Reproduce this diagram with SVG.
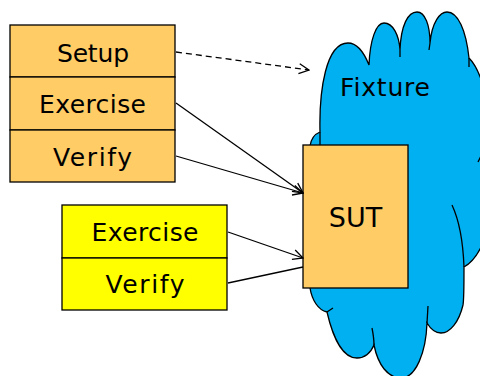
<svg xmlns="http://www.w3.org/2000/svg" width="480" height="376" viewBox="0 0 480 376">
<style>
.box{stroke:#000;stroke-width:1.3}
.orange{fill:#FFCC66}
.yellow{fill:#FFFF00}
.lbl{font-family:"DejaVu Sans","Verdana",sans-serif;font-size:25px;fill:#000;text-anchor:middle}
.conn{stroke:#000;stroke-width:1.3;fill:none}
.dash{stroke-dasharray:6,4}
</style>
<defs>
<marker id="arr" viewBox="0 0 12 12" refX="11" refY="6" markerWidth="12" markerHeight="12" markerUnits="userSpaceOnUse" orient="auto">
<path d="M1,1 L11,6 L1,11" fill="none" stroke="#000" stroke-width="1.3"/>
</marker>
</defs>
<g id="fixture">
<path d="M310,146 C311,139 315,134 320,132 C319,90 326,43 348,43 C358,43 365,55 369,65 C370,40 376,23 384,23 C393,23 399,35 400,50 C401,25 408,12 417,12 C425,12 430,25 430,43 C432,22 440,12 447,12 C458,12 466,30 469,58 C473,62 478,70 482,82 L490,90 L490,240 L482,245 C477,256 471,263 464,267 C464,285 464,300 463,305 C459,322 450,333 441,333 C434,333 430,328 427,323 C426,352 416,378 401,378 C388,378 378,365 374,345 C371,352 366,358 357,358 C343,358 333,338 327,312 C318,310 312,300 310,288 Z" fill="#00B0F0" stroke="#000" stroke-width="1.3"/>
<path d="M320,132 L320,145 M400,50 L400,57 M430,43 L429,50 M469,58 L469,67 M478,162 L482,154 M452,205 C459,220 463,240 464,267 M427,323 L428,306 M374,345 C374,338 373,333 372,328 M327,312 L333,308" fill="none" stroke="#000" stroke-width="1.3"/>
<text class="lbl" x="385" y="96" textLength="90">Fixture</text>
</g>
<g id="sut">
<rect class="box orange" x="303" y="145" width="105" height="143"/>
<text class="lbl" x="355.5" y="227" style="font-size:27px">SUT</text>
</g>
<g id="setup">
<rect class="box orange" x="10" y="25" width="165" height="52"/>
<text class="lbl" x="93" y="62" textLength="72">Setup</text>
</g>
<g id="exercise1">
<rect class="box orange" x="10" y="77" width="165" height="53"/>
<text class="lbl" x="92.5" y="113" textLength="107">Exercise</text>
</g>
<g id="verify1">
<rect class="box orange" x="10" y="130" width="165" height="52"/>
<text class="lbl" x="92.5" y="166" textLength="79">Verify</text>
</g>
<g id="exercise2">
<rect class="box yellow" x="62" y="205" width="165" height="53"/>
<text class="lbl" x="145" y="241" textLength="107">Exercise</text>
</g>
<g id="verify2">
<rect class="box yellow" x="62" y="258" width="165" height="52"/>
<text class="lbl" x="145" y="293" textLength="79">Verify</text>
</g>
<g id="connectors">
<line class="conn dash" x1="176" y1="52" x2="309" y2="70" marker-end="url(#arr)"/>
<line class="conn" x1="176" y1="103" x2="303" y2="193" marker-end="url(#arr)"/>
<line class="conn" x1="176" y1="156" x2="303" y2="193" marker-end="url(#arr)"/>
<line class="conn" x1="228" y1="232" x2="303" y2="258" marker-end="url(#arr)"/>
<line class="conn" x1="228" y1="283" x2="303" y2="267"/>
</g>
</svg>
